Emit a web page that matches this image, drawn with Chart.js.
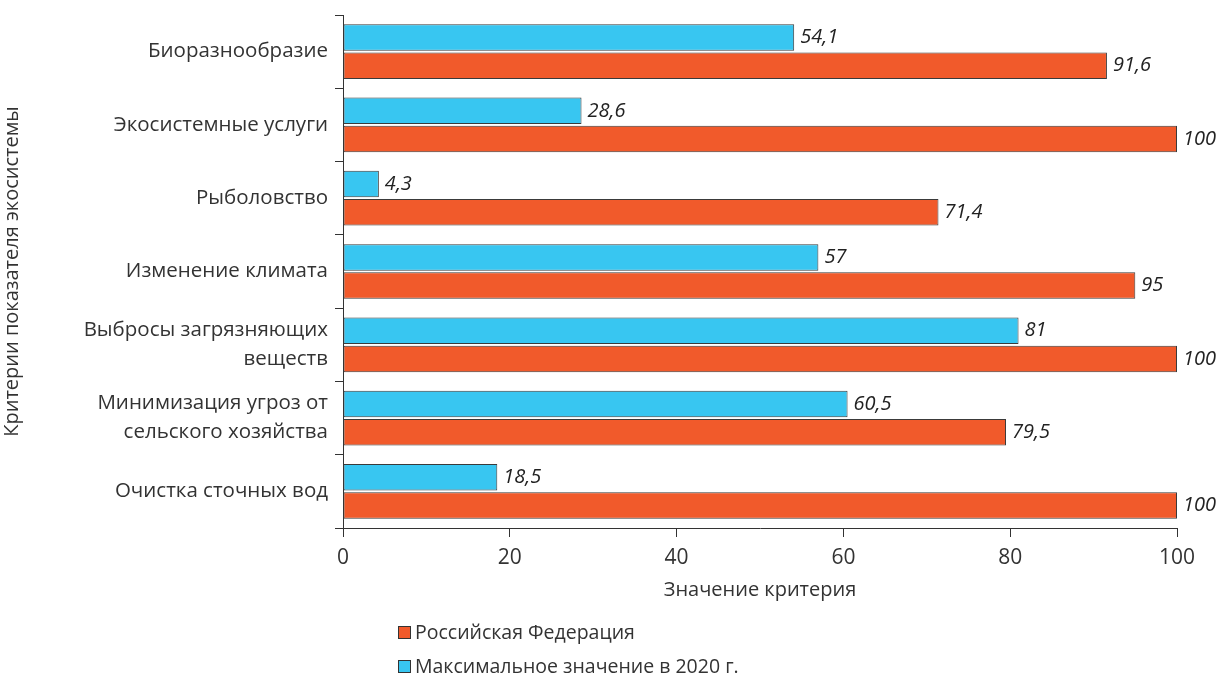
<!DOCTYPE html>
<html>
<head>
<meta charset="utf-8">
<script src="https://cdn.jsdelivr.net/npm/chart.js@4"></script>
<style>
  html, body { margin: 0; padding: 0; background: #fff; }
  #wrap { width: 1219px; height: 676px; position: relative; }
</style>
</head>
<body>
<div id="wrap"><canvas id="chart"></canvas></div>
<script>
var categories = [
  'Биоразнообразие',
  'Экосистемные услуги',
  'Рыболовство',
  'Изменение климата',
  ['Выбросы загрязняющих', 'веществ'],
  ['Минимизация угроз от', 'сельского хозяйства'],
  'Очистка сточных вод'
]
var maxValues = [54.1, 28.6, 4.3, 57, 81, 60.5, 18.5]
var rfValues = [91.6, 100, 71.4, 95, 100, 79.5, 100]
var xTicks = [0, 20, 40, 60, 80, 100]

var seriesNames = ['Максимальное значение в 2020 г.', 'Российская Федерация']
var blue = '#38c6f1'
var red = '#f15a2b'
var fontFam = '"Open Sans", "DejaVu Sans", sans-serif'
var textCol = '#333'

// italic value labels at the end of each bar
var valueLabels = {
  id: 'valueLabels',
  afterDatasetsDraw: function (chart) {
    var ctx = chart.ctx
    ctx.save()
    ctx.font = 'italic 20px ' + fontFam
    ctx.fillStyle = '#222'
    ctx.textBaseline = 'middle'
    chart.data.datasets.forEach(function (ds, i) {
      chart.getDatasetMeta(i).data.forEach(function (bar, j) {
        var txt = String(ds.data[j]).replace('.', ',')
        ctx.fillText(txt, bar.x + 6, bar.y)
      })
    })
    ctx.restore()
  }
}

// vertical legend under the axis title
var stackLegend = {
  id: 'stackLegend',
  afterDraw: function (chart) {
    var ctx = chart.ctx
    var items = [
      { text: seriesNames[1], color: red },
      { text: seriesNames[0], color: blue }
    ]
    ctx.save()
    ctx.font = '19.5px ' + fontFam
    ctx.textBaseline = 'middle'
    items.forEach(function (it, k) {
      var y = 633 + k * 34
      ctx.fillStyle = it.color
      ctx.fillRect(398.5, y - 6.5, 12, 12)
      ctx.strokeStyle = '#333'
      ctx.lineWidth = 1
      ctx.strokeRect(398.5, y - 6.5, 12, 12)
      ctx.fillStyle = textCol
      ctx.fillText(it.text, 415, y)
    })
    ctx.restore()
  }
}

var chart = new Chart(document.getElementById('chart'), {
  type: 'bar',
  data: {
    labels: categories,
    datasets: [
      {
        label: seriesNames[0],
        data: maxValues,
        backgroundColor: blue,
        borderColor: '#3a3a3a',
        borderWidth: 1,
        borderSkipped: false,
        categoryPercentage: 0.77,
        barPercentage: 0.94
      },
      {
        label: seriesNames[1],
        data: rfValues,
        backgroundColor: red,
        borderColor: '#3a3a3a',
        borderWidth: 1,
        borderSkipped: false,
        categoryPercentage: 0.77,
        barPercentage: 0.94
      }
    ]
  },
  options: {
    indexAxis: 'y',
    responsive: true,
    maintainAspectRatio: false,
    animation: false,
    layout: { padding: { top: 15, right: 42, bottom: 74, left: 0 } },
    plugins: {
      legend: { display: false },
      tooltip: { enabled: false }
    },
    scales: {
      x: {
        min: 0,
        max: 100,
        afterBuildTicks: function (scale) {
          scale.ticks = xTicks.map(function (v) { return { value: v } })
        },
        afterFit: function (scale) { scale.height = 74 },
        grid: {
          drawOnChartArea: false,
          drawTicks: true,
          tickLength: 9,
          tickColor: '#333',
          color: '#333'
        },
        border: { display: true, color: '#333', width: 1 },
        ticks: {
          color: textCol,
          padding: 8,
          font: { family: fontFam, size: 21 }
        },
        title: {
          display: true,
          text: 'Значение критерия',
          color: textCol,
          padding: { top: 0, bottom: 0 },
          font: { family: fontFam, size: 20 }
        }
      },
      y: {
        afterFit: function (scale) {
          scale.width = 343
          scale.paddingTop = 0
          scale.paddingBottom = 0
        },
        grid: {
          offset: true,
          drawOnChartArea: false,
          drawTicks: true,
          tickLength: 8,
          tickColor: '#333'
        },
        border: { display: true, color: '#333', width: 1 },
        ticks: {
          color: textCol,
          padding: 7,
          font: { family: fontFam, size: 20.5, lineHeight: 1.42 }
        },
        title: {
          display: true,
          text: 'Критерии показателя экосистемы',
          color: textCol,
          padding: { top: 0, bottom: 0 },
          font: { family: fontFam, size: 20 }
        }
      }
    }
  },
  plugins: [valueLabels, stackLegend]
})
</script>
</body>
</html>
